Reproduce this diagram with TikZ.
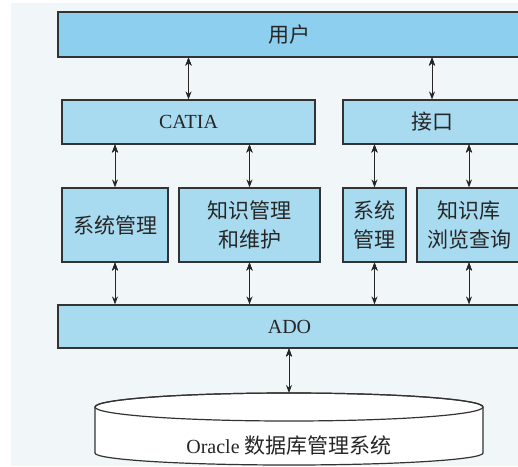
\documentclass[tikz,border=0pt]{standalone}
\usepackage{fontspec}
\setmainfont{Liberation Serif}
\newfontfamily\cjk{Noto Sans CJK SC}
\usetikzlibrary{arrows.meta}
\definecolor{topblue}{HTML}{8DCFEE}
\definecolor{boxblue}{HTML}{A8DBF0}
\definecolor{paper}{HTML}{F1F6F8}

\begin{document}
\begin{tikzpicture}[x=1pt,y=-1pt,
    bnode/.style={draw=black!80,line width=1.2pt,fill=boxblue,inner sep=0pt,text=black!85,align=center,minimum height=74pt},
    cn/.style={font=\cjk\fontsize{21}{29}\selectfont},
    ln/.style={font=\fontsize{20}{24}\selectfont},
    link/.style={{Stealth[length=8pt,width=6pt]}-{Stealth[length=8pt,width=6pt]},line width=1pt,draw=black!85}]
    \useasboundingbox (0,0) rectangle (518,466);
    \clip (0,0) rectangle (518,466);
    \fill[white] (0,0) rectangle (518,466);
    \fill[paper] (11,3) rectangle (518,466);

    \node[bnode,cn,fill=topblue,minimum width=463pt,minimum height=45pt] (user) at (289.5,34.5) {用户};
    \node[bnode,ln,minimum width=253pt,minimum height=44pt] (catia) at (188.5,122) {CATIA};
    \node[bnode,cn,minimum width=178pt,minimum height=44pt] (port) at (432,122) {接口};
    \node[bnode,cn,minimum width=106pt] (sysa) at (115,225) {系统管理};
    \node[bnode,cn,minimum width=141pt] (know) at (249.5,225) {知识管理\\和维护};
    \node[bnode,cn,minimum width=63pt] (sysb) at (374.5,225) {系统\\管理};
    \node[bnode,cn,minimum width=104pt] (query) at (469,225) {知识库\\浏览查询};
    \node[bnode,ln,minimum width=463pt,minimum height=43pt] (ado) at (289.5,326.5) {ADO};

    \coordinate (db) at (289,393);
    \draw[black!80,line width=1.2pt,fill=white] (95,407) -- (95,453) arc[start angle=180,end angle=0,x radius=194,y radius=12] -- (483,407) arc[start angle=0,end angle=-180,x radius=194,y radius=14] -- cycle;
    \draw[black!80,line width=1.2pt] (289,407) ellipse[x radius=194,y radius=14];
    \node[ln,text=black!85,anchor=base] (dbname) at (289,453) {Oracle {\cjk\fontsize{21}{24}\selectfont 数据库管理系统}};

    \draw[link] (user.south -| catia) edge (catia.north);
    \draw[link] (user.south -| port) edge (port.north);
    \draw[link] (catia.south -| sysa) edge (sysa.north);
    \draw[link] (catia.south -| know) edge (know.north);
    \draw[link] (port.south -| sysb) edge (sysb.north);
    \draw[link] (port.south -| query) edge (query.north);
    \draw[link] (sysa.south) edge (ado.north -| sysa);
    \draw[link] (know.south) edge (ado.north -| know);
    \draw[link] (sysb.south) edge (ado.north -| sysb);
    \draw[link] (query.south) edge (ado.north -| query);
    \draw[link] (ado.south -| db) edge (db);
\end{tikzpicture}
\end{document}
